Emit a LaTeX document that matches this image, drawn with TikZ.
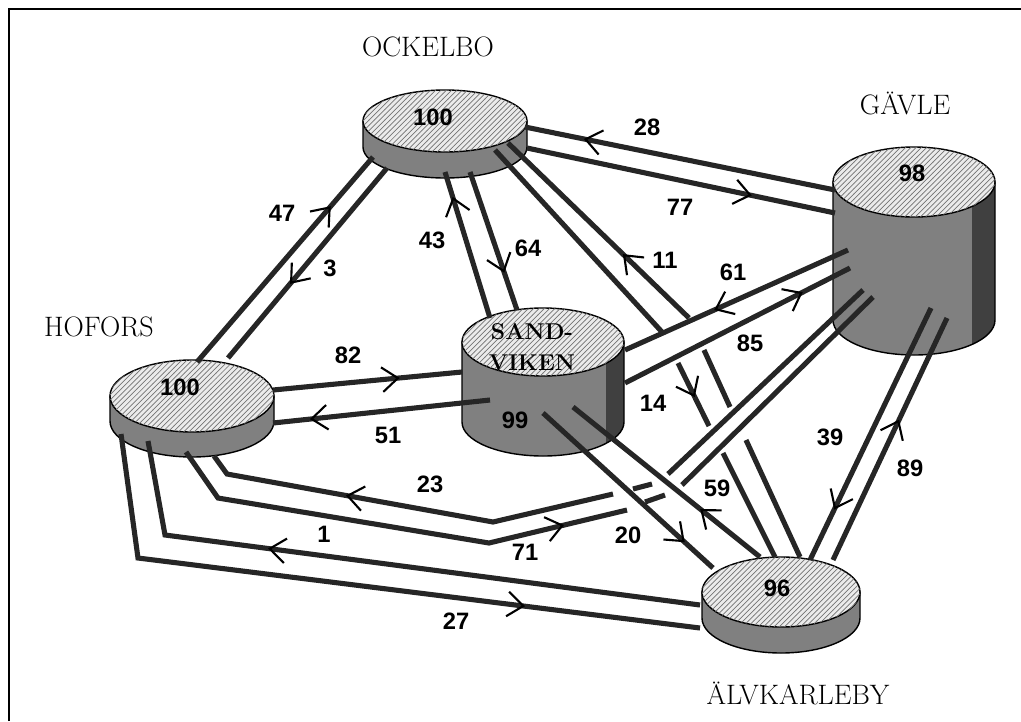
\documentclass[tikz,border=0pt]{standalone}
\usepackage{fontspec}
\setsansfont{Liberation Sans}
\usetikzlibrary{arrows.meta,decorations.markings,patterns}

\begin{document}
\begin{tikzpicture}[x=0.02cm,y=-0.02cm,line join=miter,
    town/.style={font=\fontsize{16}{18}\selectfont,inner sep=0pt},
    flowlbl/.style={font=\sffamily\bfseries\fontsize{13.5}{15}\selectfont,inner sep=0pt},
    disknum/.style={font=\sffamily\bfseries\fontsize{13.5}{15}\selectfont,inner sep=0pt},
    diskname/.style={font=\bfseries\fontsize{13}{14}\selectfont,inner sep=0pt},
    flow/.style={draw=black!85,line width=2.9pt},
    flowtip/.style={postaction={decorate,decoration={markings,
        mark=at position #1 with {\arrow[black,line width=1.2pt]{Straight Barb[length=9pt,width=14pt]}}}}},
    disktop/.style={draw=black,line width=0.8pt,fill=black!8,
        postaction={pattern=north east lines,pattern color=black!55}},
    diskside/.style={draw=black,line width=0.8pt,fill=black!50},
    darkstrip/.style={path picture={\fill[black!75]
        ([xshift=-#1]path picture bounding box.north east) rectangle
        (path picture bounding box.south east);}},
  ]
  \useasboundingbox (0,0) rectangle (1021,721);
  \draw[line width=1.4pt] (9,721) -- (9,9) -- (1021,9);

  % stations
  \coordinate (ock) at (445,121);
  \coordinate (hof) at (192,396);
  \coordinate (san) at (543,342);
  \coordinate (gav) at (914,182);
  \coordinate (alv) at (781,592);

  \draw[diskside] ([shift={(-82,0)}]ock) -- ++(0,26)
    arc[start angle=180,end angle=0,x radius=82,y radius=31] -- ++(0,-26) -- cycle;
  \draw[disktop] (ock) ellipse[x radius=82,y radius=31];

  \draw[diskside] ([shift={(-82,0)}]hof) -- ++(0,25)
    arc[start angle=180,end angle=0,x radius=82,y radius=36] -- ++(0,-25) -- cycle;
  \draw[disktop] (hof) ellipse[x radius=82,y radius=36];

  \draw[diskside,darkstrip=0.36cm] ([shift={(-81,0)}]san) -- ++(0,80)
    arc[start angle=180,end angle=0,x radius=81,y radius=34] -- ++(0,-80) -- cycle;
  \draw[disktop] (san) ellipse[x radius=81,y radius=34];

  \draw[diskside,darkstrip=0.46cm] ([shift={(-81,0)}]gav) -- ++(0,138)
    arc[start angle=180,end angle=0,x radius=81,y radius=35] -- ++(0,-138) -- cycle;
  \draw[disktop] (gav) ellipse[x radius=81,y radius=35];

  \draw[diskside] ([shift={(-79,0)}]alv) -- ++(0,26)
    arc[start angle=180,end angle=0,x radius=79,y radius=35] -- ++(0,-26) -- cycle;
  \draw[disktop] (alv) ellipse[x radius=79,y radius=35];

  % Hofors - Ockelbo
  \draw[flow,flowtip=0.76] ([shift={(5,-34)}]hof) -- ([shift={(-72,36)}]ock);
  \draw[flow,flowtip=0.61] ([shift={(-58,47)}]ock) -- ([shift={(36,-38)}]hof);
  % Sandviken - Ockelbo
  \draw[flow,flowtip=0.83] ([shift={(-53,-24)}]san) -- ([shift={(0,51)}]ock);
  \draw[flow,flowtip=0.73] ([shift={(25,51)}]ock) -- ([shift={(-26,-32)}]san);
  % Gavle - Ockelbo
  \draw[flow,flowtip=0.81] ([shift={(-79,8)}]gav) -- ([shift={(80,6)}]ock);
  \draw[flow,flowtip=0.73] ([shift={(82,27)}]ock) -- ([shift={(-79,31)}]gav);
  % Hofors - Sandviken
  \draw[flow,flowtip=0.67] ([shift={(81,-6)}]hof) -- ([shift={(-81,30)}]san);
  \draw[flow,flowtip=0.83] ([shift={(-53,58)}]san) -- ([shift={(81,27)}]hof);
  % Sandviken - Gavle
  \draw[flow,flowtip=0.6] ([shift={(-66,68)}]gav) -- ([shift={(82,8)}]san);
  \draw[flow,flowtip=0.79] ([shift={(82,41)}]san) -- ([shift={(-64,86)}]gav);
  % Gavle - Alvkarleby
  \draw[flow,flowtip=0.8] ([shift={(17,126)}]gav) -- ([shift={(29,-32)}]alv);
  \draw[flow,flowtip=0.58] ([shift={(52,-32)}]alv) -- ([shift={(33,136)}]gav);
  % Hofors - Alvkarleby
  \draw[flow,flowtip=0.686] ([shift={(-81,13)}]alv) -- (165,535) -- ([shift={(-44,45)}]hof);
  \draw[flow,flowtip=0.745] ([shift={(-71,38)}]hof) -- (138,558) -- ([shift={(-81,36)}]alv);
  % Ockelbo - Alvkarleby (broken where other lines pass)
  \draw[flow] ([shift={(50,29)}]ock) -- (662,332);
  \draw[flow,flowtip=0.54] (678,363) -- (709,426);
  \draw[flow] (723,453) -- ([shift={(-6,-35)}]alv);
  \draw[flow] ([shift={(19,-35)}]alv) -- (746,440);
  \draw[flow] (730,407) -- (704,350);
  \draw[flow,flowtip=0.365] (689,318) -- ([shift={(63,22)}]ock);
  % Hofors - Gavle
  \draw[flow] ([shift={(-51,108)}]gav) -- (668,474);
  \draw[flow] (652,484) -- (633,489);
  \draw[flow,flowtip=0.656] (613,494) -- (493,522) -- (227,474) -- ([shift={(22,60)}]hof);
  \draw[flow,flowtip=0.863] ([shift={(-6,56)}]hof) -- (218,498) -- (489,543) -- (627,510);
  \draw[flow] (645,502) -- (665,495);
  \draw[flow] (682,485) -- ([shift={(-41,115)}]gav);
  % Sandviken - Alvkarleby
  \draw[flow,flowtip=0.835] ([shift={(0,71)}]san) -- ([shift={(-68,-24)}]alv);
  \draw[flow,flowtip=0.32] ([shift={(-21,-35)}]alv) -- ([shift={(30,65)}]san);

  % flow labels
  \node[flowlbl] (l47) at (282,213) {47};
  \node[flowlbl] (l3)  at (330,268) {3};
  \node[flowlbl] (l43) at (432,240) {43};
  \node[flowlbl] (l64) at (528,248) {64};
  \node[flowlbl] (l28) at (647,127) {28};
  \node[flowlbl] (l77) at (680,207) {77};
  \node[flowlbl] (l11) at (665,260) {11};
  \node[flowlbl] (l61) at (733,272) {61};
  \node[flowlbl] (l85) at (750,343) {85};
  \node[flowlbl] (l14) at (653,403) {14};
  \node[flowlbl] (l82) at (348,355) {82};
  \node[flowlbl] (l51) at (388,435) {51};
  \node[flowlbl] (l23) at (430,484) {23};
  \node[flowlbl] (l71) at (525,552) {71};
  \node[flowlbl] (l1)  at (324,534) {1};
  \node[flowlbl] (l27) at (456,621) {27};
  \node[flowlbl] (l20) at (628,535) {20};
  \node[flowlbl] (l59) at (717,488) {59};
  \node[flowlbl] (l39) at (830,437) {39};
  \node[flowlbl] (l89) at (910,468) {89};

  % station names and values
  \node[town] (n-ock) at (428,47) {OCKELBO};
  \node[town] (n-gav) at (905,103) {GÄVLE};
  \node[town] (n-hof) at (99,327) {HOFORS};
  \node[town] (n-alv) at (798,693) {ÄLVKARLEBY};
  \node[disknum] (v-ock) at (433,117) {100};
  \node[disknum] (v-hof) at (180,387) {100};
  \node[disknum] (v-gav) at (912,173) {98};
  \node[disknum] (v-alv) at (777,588) {96};
  \node[disknum] (v-san) at (515,420) {99};
  \node[diskname] (t-san1) at (532,332) {SAND-};
  \node[diskname] (t-san2) at (532,363) {VIKEN};
\end{tikzpicture}
\end{document}
